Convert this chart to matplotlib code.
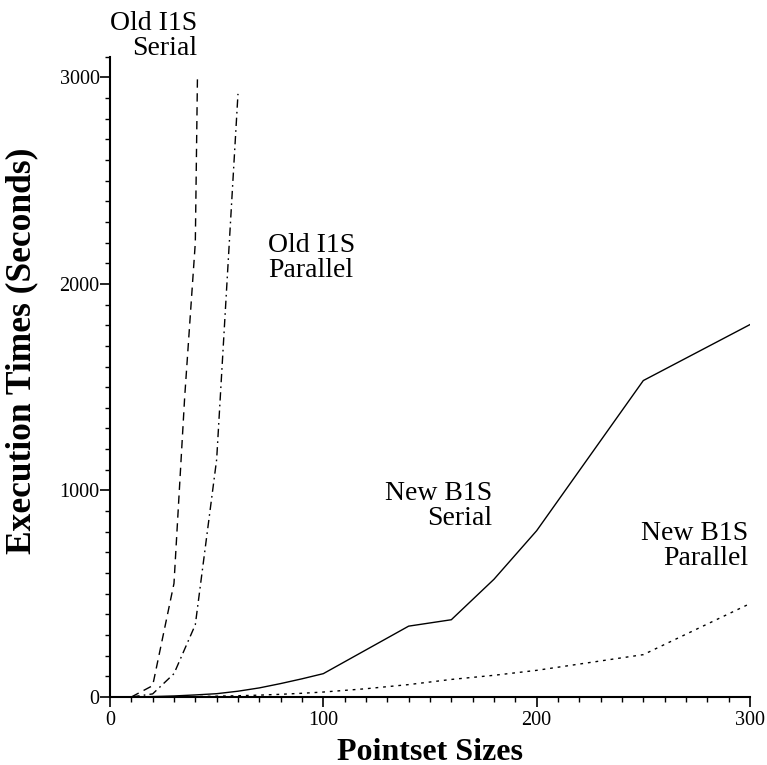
import numpy as np
import matplotlib.pyplot as plt
from matplotlib.ticker import MultipleLocator

plt.rcParams['font.family'] = ['Liberation Serif', 'DejaVu Serif']

# 数据
old_serial_x = [10, 20, 30, 35, 40, 41]
old_serial_y = [0, 55, 550, 1450, 2200, 3000]

old_par_x = [10, 20, 30, 40, 50, 60]
old_par_y = [0, 15, 113, 350, 1150, 2920]

new_serial_x = [10, 20, 30, 40, 50, 60, 70, 80, 90, 100, 120, 140, 160, 180, 200, 250, 300]
new_serial_y = [0, 2, 5, 10, 16, 28, 44, 65, 88, 113, 228, 343, 374, 570, 805, 1532, 1803]

new_par_x = [10, 20, 30, 40, 50, 60, 70, 80, 90, 100, 120, 140, 160, 180, 200, 250, 300]
new_par_y = [0, 0.5, 1, 2, 4, 6, 9, 13, 18, 24, 40, 60, 85, 105, 129, 205, 452]

fig = plt.figure(figsize=(7.67, 7.65), dpi=100)
ax = fig.add_axes([0.1434, 0.0889, 0.8344, 0.837])

lw = 1.0
ax.plot(old_serial_x, old_serial_y, color='black', lw=lw, linestyle=(0, (6, 4)))
ax.plot(old_par_x, old_par_y, color='black', lw=lw, linestyle=(0, (6, 3, 1.2, 3)))
ax.plot(new_serial_x, new_serial_y, color='black', lw=lw, linestyle='solid')
ax.plot(new_par_x, new_par_y, color='black', lw=lw, linestyle=(0, (2, 3.5)))

# 曲线标注
fs = 20
ax.text(40.8, 3200, 'Old I1S\nSerial', ha='right', va='center', fontsize=fs,
        linespacing=1.0, clip_on=False, multialignment='right')
ax.text(74, 2125, 'Old I1S\nParallel', ha='left', va='center', fontsize=fs,
        linespacing=1.0)
ax.text(179, 925, 'New B1S\nSerial', ha='right', va='center', fontsize=fs,
        linespacing=1.0, multialignment='right')
ax.text(299, 731, 'New B1S\nParallel', ha='right', va='center', fontsize=fs,
        linespacing=1.0, multialignment='right')

# 坐标轴
ax.set_xlim(0, 300)
ax.set_ylim(0, 3100)
ax.xaxis.set_major_locator(MultipleLocator(100))
ax.xaxis.set_minor_locator(MultipleLocator(10))
ax.set_yticks([0, 1000, 2000, 3000])
ax.yaxis.set_minor_locator(MultipleLocator(100))

for side in ['top', 'right']:
    ax.spines[side].set_visible(False)
for side in ['left', 'bottom']:
    ax.spines[side].set_linewidth(1.5)

ax.tick_params(which='major', direction='out', length=7, width=1.2, labelsize=14.5)
ax.tick_params(which='minor', direction='out', length=3.5, width=1.0)
ax.tick_params(axis='x', which='major', pad=3)
ax.tick_params(axis='y', which='major', pad=0.5)

ax.set_xlabel('Pointset Sizes', fontsize=23, fontweight='bold', labelpad=5.5)
ax.set_ylabel('Execution Times (Seconds)', fontsize=25.5, fontweight='bold')
ax.yaxis.set_label_coords(-0.112, 0.54)

fig.savefig('out.png', dpi=100)
